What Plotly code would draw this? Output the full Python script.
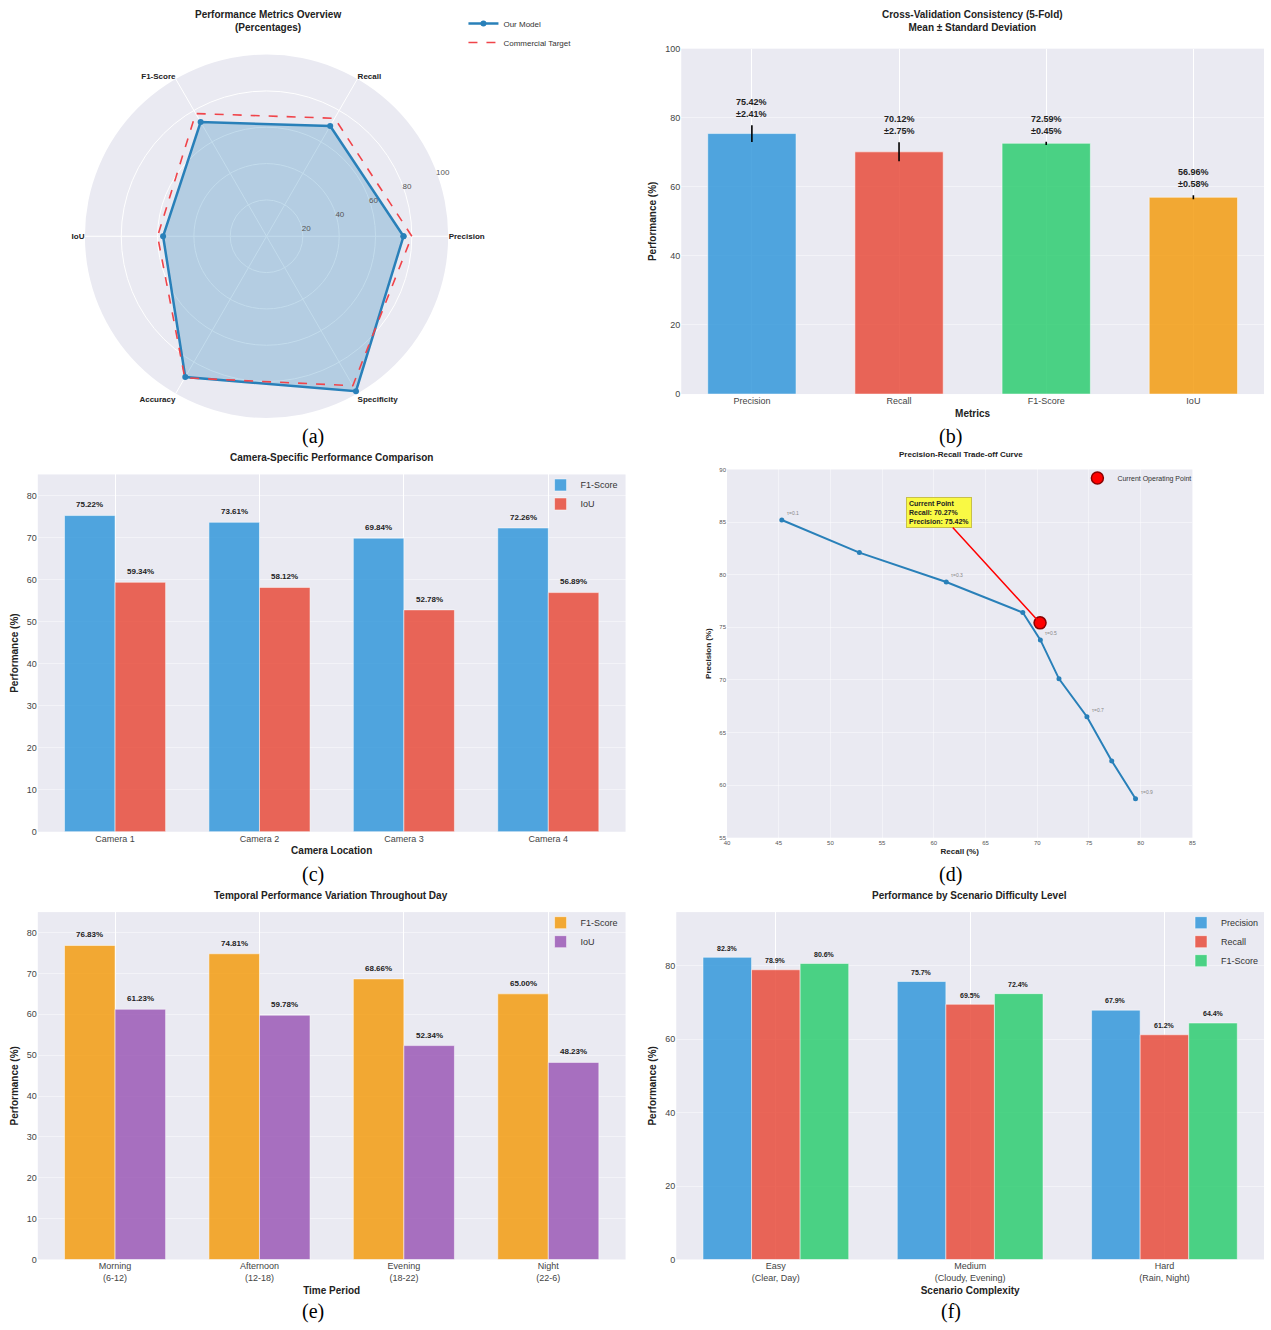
import plotly.graph_objects as go

W, H = 1271, 1330
BG = "#eaeaf2"
FONT = "Liberation Sans, Arial, sans-serif"

# ---------------- data ----------------
radar_metrics = ["Precision", "Recall", "F1-Score", "IoU", "Accuracy", "Specificity"]
radar_model = [75.42, 70.12, 72.59, 56.96, 89.5, 98.5]
radar_target = [80, 75, 78, 60, 90, 95]

cv_metrics = ["Precision", "Recall", "F1-Score", "IoU"]
cv_mean = [75.42, 70.12, 72.59, 56.96]
cv_std = [2.41, 2.75, 0.45, 0.58]
cv_colors = ["#3498db", "#e74c3c", "#2ecc71", "#f39c12"]

cameras = ["Camera 1", "Camera 2", "Camera 3", "Camera 4"]
cam_f1 = [75.22, 73.61, 69.84, 72.26]
cam_iou = [59.34, 58.12, 52.78, 56.89]

pr_recall = [45.3, 52.8, 61.2, 68.6, 70.3, 72.1, 74.8, 77.2, 79.5]
pr_precision = [85.2, 82.1, 79.3, 76.4, 73.8, 70.1, 66.5, 62.3, 58.7]
pr_thresholds = [0.1, 0.2, 0.3, 0.4, 0.5, 0.6, 0.7, 0.8, 0.9]
pr_labeled = [True, False, True, False, True, False, True, False, True]
cur_recall, cur_precision = 70.27, 75.42

periods = ["Morning<br>(6-12)", "Afternoon<br>(12-18)", "Evening<br>(18-22)", "Night<br>(22-6)"]
time_f1 = [76.83, 74.81, 68.66, 65.00]
time_iou = [61.23, 59.78, 52.34, 48.23]

scenarios = ["Easy<br>(Clear, Day)", "Medium<br>(Cloudy, Evening)", "Hard<br>(Rain, Night)"]
sc_precision = [82.3, 75.7, 67.9]
sc_recall = [78.9, 69.5, 61.2]
sc_f1 = [80.6, 72.4, 64.4]

panel_labels = ["(a)", "(b)", "(c)", "(d)", "(e)", "(f)"]

# ---------------- helpers ----------------
def px_x(x0, x1):
    return [x0 / W, x1 / W]

def px_y(y0, y1):
    return [1 - y1 / H, 1 - y0 / H]

def rgba(hexc, a):
    h = hexc.lstrip("#")
    r, g, b = int(h[0:2], 16), int(h[2:4], 16), int(h[4:6], 16)
    return f"rgba({r},{g},{b},{a})"

fig = go.Figure()
ann = []

# ---------------- (a) radar ----------------
th = radar_metrics + [radar_metrics[0]]
fig.add_trace(go.Scatterpolar(
    r=radar_model + [radar_model[0]], theta=th, mode="lines", line=dict(width=0, color="rgba(0,0,0,0)"),
    fill="toself", fillcolor="rgba(41,128,185,0.28)", subplot="polar", showlegend=False, hoverinfo="skip"))
fig.add_trace(go.Scatterpolar(
    r=radar_model + [radar_model[0]], theta=th, mode="lines+markers",
    name="Our Model", line=dict(color="#2980b9", width=2.5),
    marker=dict(size=6, color="#2980b9"), subplot="polar", legend="legend"))
fig.add_trace(go.Scatterpolar(
    r=radar_target + [radar_target[0]], theta=th, mode="lines",
    name="Commercial Target", line=dict(color="#f0444a", width=1.6, dash="dash"),
    subplot="polar", legend="legend"))

# ---------------- (b) CV bars ----------------
idx_b = list(range(len(cv_metrics)))
fig.add_trace(go.Bar(
    x=idx_b, y=cv_mean, width=0.6,
    marker=dict(color=[rgba(c, 0.85) for c in cv_colors], line=dict(color="rgba(255,255,255,0.5)", width=1)),
    error_y=dict(type="data", array=cv_std, color="black", thickness=1.6, width=0),
    xaxis="x2", yaxis="y2", showlegend=False))
for i, (m, s) in enumerate(zip(cv_mean, cv_std)):
    ann.append(dict(x=i, y=m + s + 1.2, xref="x2", yref="y2", text=f"<b>{m:.2f}%<br>±{s:.2f}%</b>",
                    showarrow=False, xanchor="center", yanchor="bottom",
                    font=dict(size=9, color="#222", family=FONT)))

# ---------------- (c) camera bars ----------------
idx_c = list(range(len(cameras)))
bw = 0.35
fig.add_trace(go.Bar(x=idx_c, y=cam_f1, width=bw, offset=-bw, name="F1-Score",
                     marker=dict(color=rgba("#3498db", 0.85), line=dict(color="rgba(255,255,255,0.5)", width=1)),
                     xaxis="x3", yaxis="y3", legend="legend2"))
fig.add_trace(go.Bar(x=idx_c, y=cam_iou, width=bw, offset=0, name="IoU",
                     marker=dict(color=rgba("#e74c3c", 0.85), line=dict(color="rgba(255,255,255,0.5)", width=1)),
                     xaxis="x3", yaxis="y3", legend="legend2"))
for i in idx_c:
    ann.append(dict(x=i - bw / 2, y=cam_f1[i] + 1, xref="x3", yref="y3", text=f"<b>{cam_f1[i]:.2f}%</b>",
                    showarrow=False, xanchor="center", yanchor="bottom", font=dict(size=8, color="#222", family=FONT)))
    ann.append(dict(x=i + bw / 2, y=cam_iou[i] + 1, xref="x3", yref="y3", text=f"<b>{cam_iou[i]:.2f}%</b>",
                    showarrow=False, xanchor="center", yanchor="bottom", font=dict(size=8, color="#222", family=FONT)))

# ---------------- (d) PR curve ----------------
fig.add_trace(go.Scatter(x=pr_recall, y=pr_precision, mode="lines+markers",
                         line=dict(color="#2980b9", width=2), marker=dict(size=5, color="#2980b9"),
                         xaxis="x4", yaxis="y4", showlegend=False))
fig.add_trace(go.Scatter(x=[cur_recall], y=[cur_precision], mode="markers", name="Current Operating Point",
                         marker=dict(size=12, color="red", line=dict(color="darkred", width=1.5)),
                         xaxis="x4", yaxis="y4", legend="legend3"))
for r, p, t, lab in zip(pr_recall, pr_precision, pr_thresholds, pr_labeled):
    if lab:
        ann.append(dict(x=r, y=p, xref="x4", yref="y4", text=f"τ={t:.1f}", showarrow=False,
                        xanchor="left", yanchor="bottom", xshift=3, yshift=2,
                        font=dict(size=5, color="#888", family=FONT)))
ann.append(dict(x=cur_recall, y=cur_precision, xref="x4", yref="y4",
                ax=60.5, ay=85.9, axref="x4", ayref="y4",
                text=f"<b>Current Point<br>Recall: {cur_recall:.2f}%<br>Precision: {cur_precision:.2f}%</b>",
                showarrow=True, arrowhead=0, arrowcolor="red", arrowwidth=1.5, standoff=3,
                bgcolor="rgba(255,255,0,0.72)", bordercolor="#c8c04a", borderwidth=1, borderpad=2,
                align="left", font=dict(size=7, color="#222", family=FONT)))

# ---------------- (e) temporal ----------------
idx_e = list(range(len(periods)))
fig.add_trace(go.Bar(x=idx_e, y=time_f1, width=bw, offset=-bw, name="F1-Score",
                     marker=dict(color=rgba("#f39c12", 0.85), line=dict(color="rgba(255,255,255,0.5)", width=1)),
                     xaxis="x5", yaxis="y5", legend="legend4"))
fig.add_trace(go.Bar(x=idx_e, y=time_iou, width=bw, offset=0, name="IoU",
                     marker=dict(color=rgba("#9b59b6", 0.85), line=dict(color="rgba(255,255,255,0.5)", width=1)),
                     xaxis="x5", yaxis="y5", legend="legend4"))
for i in idx_e:
    ann.append(dict(x=i - bw / 2, y=time_f1[i] + 1, xref="x5", yref="y5", text=f"<b>{time_f1[i]:.2f}%</b>",
                    showarrow=False, xanchor="center", yanchor="bottom", font=dict(size=8, color="#222", family=FONT)))
    ann.append(dict(x=i + bw / 2, y=time_iou[i] + 1, xref="x5", yref="y5", text=f"<b>{time_iou[i]:.2f}%</b>",
                    showarrow=False, xanchor="center", yanchor="bottom", font=dict(size=8, color="#222", family=FONT)))

# ---------------- (f) scenario ----------------
idx_f = list(range(len(scenarios)))
bw3 = 0.25
for k, (vals, nm, col) in enumerate([(sc_precision, "Precision", "#3498db"),
                                      (sc_recall, "Recall", "#e74c3c"),
                                      (sc_f1, "F1-Score", "#2ecc71")]):
    off = (k - 1) * bw3 - bw3 / 2
    fig.add_trace(go.Bar(x=idx_f, y=vals, width=bw3, offset=off, name=nm,
                         marker=dict(color=rgba(col, 0.85), line=dict(color="rgba(255,255,255,0.5)", width=1)),
                         xaxis="x6", yaxis="y6", legend="legend5"))
    for i in idx_f:
        ann.append(dict(x=i + off + bw3 / 2, y=vals[i] + 1, xref="x6", yref="y6", text=f"<b>{vals[i]:.1f}%</b>",
                        showarrow=False, xanchor="center", yanchor="bottom",
                        font=dict(size=7, color="#222", family=FONT)))

# ---------------- titles & panel labels ----------------
def title(text, xc, y, size=10):
    ann.append(dict(x=xc / W, y=1 - y / H, xref="paper", yref="paper", text=f"<b>{text}</b>",
                    showarrow=False, xanchor="center", yanchor="middle",
                    font=dict(size=size, color="#222", family=FONT)))

title("Performance Metrics Overview<br>(Percentages)", 266, 16)
title("Cross-Validation Consistency (5-Fold)<br>Mean ± Standard Deviation", 975, 16)
title("Camera-Specific Performance Comparison", 330, 456)
title("Precision-Recall Trade-off Curve", 963, 453, size=8)
title("Temporal Performance Variation Throughout Day", 330, 897)
title("Performance by Scenario Difficulty Level", 972, 897)

for lab, (xc, yc) in zip(panel_labels, [(312, 435), (953, 435), (312, 876), (953, 876), (312, 1316), (953, 1316)]):
    ann.append(dict(x=xc / W, y=1 - yc / H, xref="paper", yref="paper", text=lab, showarrow=False,
                    xanchor="center", yanchor="middle",
                    font=dict(size=20, color="black", family="Liberation Serif, Times New Roman, serif")))

# ---------------- axes ----------------
tickf = dict(size=9, color="#444", family=FONT)
axt = dict(size=10, color="#222", family=FONT)

def xax(dom, anchor, rng, tv, tt, ttl, tf=tickf, grid=True):
    return dict(domain=px_x(*dom), anchor=anchor, range=rng, tickvals=tv, ticktext=tt,
                showgrid=grid, gridcolor="white", gridwidth=1, zeroline=False, ticks="",
                tickfont=tf, title=dict(text=f"<b>{ttl}</b>", font=axt, standoff=4), showline=False)

def yax(dom, anchor, rng, dtick, ttl, tf=tickf, gc="rgba(255,255,255,0.45)"):
    return dict(domain=px_y(*dom), anchor=anchor, range=rng, dtick=dtick, showgrid=True,
                gridcolor=gc, gridwidth=1, zeroline=False, ticks="", tickfont=tf,
                title=dict(text=f"<b>{ttl}</b>", font=axt, standoff=6), showline=False)

def leg(x, y, size, anchor="right"):
    return dict(x=x / W, y=1 - y / H, xanchor=anchor, yanchor="top", bgcolor="rgba(0,0,0,0)",
                font=dict(size=size, color="#333", family=FONT), tracegroupgap=0)

layout = dict(
    width=W, height=H, margin=dict(l=0, r=0, t=0, b=0),
    paper_bgcolor="white", plot_bgcolor=BG, font=dict(family=FONT),
    barmode="overlay", annotations=ann,
    polar=dict(
        domain=dict(x=px_x(82, 448), y=px_y(50, 416)), bgcolor=BG,
        angularaxis=dict(direction="counterclockwise", rotation=0, gridcolor="white", showline=False,
                         ticks="", tickfont=dict(size=8, color="#222", family=FONT),
                         categoryarray=radar_metrics, categoryorder="array",
                         tickmode="array", tickvals=radar_metrics,
                         ticktext=[f"<b>{m}</b>" for m in radar_metrics]),
        radialaxis=dict(range=[0, 100], tickvals=[20, 40, 60, 80, 100], angle=22.5, tickangle=22.5,
                        gridcolor="white", showline=False, ticks="",
                        tickfont=dict(size=8, color="#555", family=FONT))),
    xaxis2=xax((682, 1268), "y2", [-0.48, 3.48], idx_b, cv_metrics, "Metrics"),
    yaxis2=yax((44, 392), "x2", [0, 100], 20, "Performance (%)"),
    xaxis3=xax((35, 626), "y3", [-0.535, 3.535], idx_c, cameras, "Camera Location"),
    yaxis3=yax((473, 833), "x3", [0, 85], 10, "Performance (%)"),
    xaxis4=dict(domain=px_x(728, 1196), anchor="y4", range=[40, 85], dtick=5, showgrid=True,
                gridcolor="rgba(255,255,255,0.45)", zeroline=False, ticks="",
                tickfont=dict(size=6, color="#555", family=FONT),
                title=dict(text="<b>Recall (%)</b>", font=dict(size=8, color="#222", family=FONT), standoff=3)),
    yaxis4=dict(domain=px_y(468, 839), anchor="x4", range=[55, 90], dtick=5, showgrid=True,
                gridcolor="rgba(255,255,255,0.45)", zeroline=False, ticks="",
                tickfont=dict(size=6, color="#555", family=FONT),
                title=dict(text="<b>Precision (%)</b>", font=dict(size=8, color="#222", family=FONT), standoff=6)),
    xaxis5=xax((35, 626), "y5", [-0.535, 3.535], idx_e, periods, "Time Period"),
    yaxis5=yax((914, 1264), "x5", [0, 85], 10, "Performance (%)"),
    xaxis6=xax((677, 1268), "y6", [-0.5125, 2.5125], idx_f, scenarios, "Scenario Complexity"),
    yaxis6=yax((914, 1264), "x6", [0, 94.6], 20, "Performance (%)"),
    legend=leg(463, 4, 8, anchor="left"),
    legend2=leg(624, 469, 9),
    legend3=leg(1200, 462, 7),
    legend4=leg(624, 910, 9),
    legend5=leg(1268, 910, 9),
)
fig.update_layout(**layout)
fig.write_html("out.html", config={"displayModeBar": False},
               post_script="document.body.style.margin='0';document.documentElement.style.overflow='hidden';")
